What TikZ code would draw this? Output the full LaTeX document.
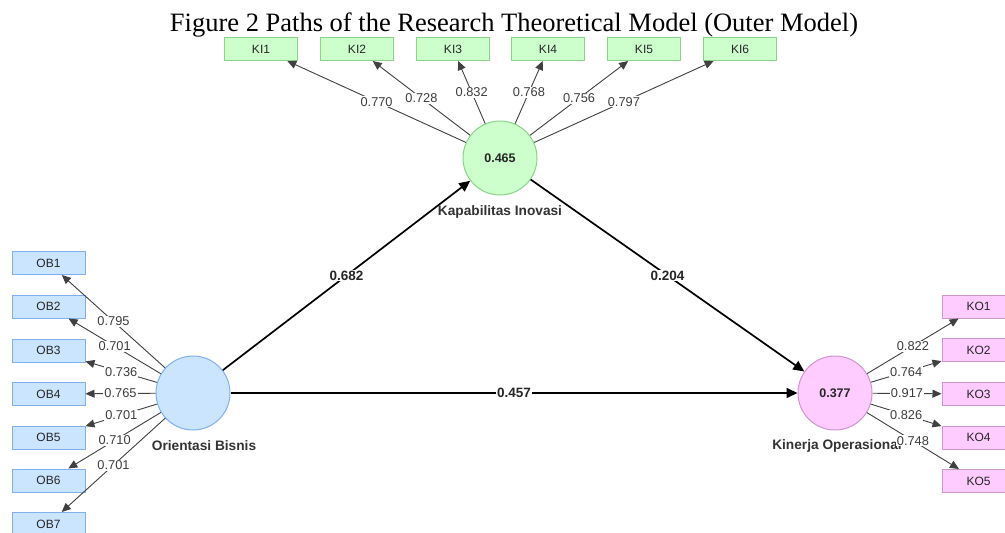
\documentclass[tikz,border=0pt]{standalone}
\usepackage{fontspec}
\setmainfont{Liberation Serif}
\newfontfamily\arialf{Liberation Sans}
\usetikzlibrary{arrows.meta}
\definecolor{obfill}{RGB}{204,229,255}
\definecolor{obline}{RGB}{130,175,240}
\definecolor{kifill}{RGB}{204,255,204}
\definecolor{kiline}{RGB}{140,210,140}
\definecolor{kofill}{RGB}{255,204,255}
\definecolor{koline}{RGB}{205,150,205}
\definecolor{txtgray}{RGB}{60,60,60}
\begin{document}
\begin{tikzpicture}[x=1pt,y=-1pt,
  ind/.style={draw, line width=1pt, minimum width=73pt, minimum height=23pt, inner sep=0pt,
    font=\arialf\fontsize{12}{13}\selectfont, text=black!85},
  obbox/.style={ind, fill=obfill, draw=obline},
  kibox/.style={ind, fill=kifill, draw=kiline},
  kobox/.style={ind, fill=kofill, draw=koline},
  lat/.style={circle, line width=1pt, minimum size=74pt, inner sep=0pt,
    font=\arialf\bfseries\fontsize{12.5}{14}\selectfont, text=black!85},
  latname/.style={font=\arialf\bfseries\fontsize{13.7}{15}\selectfont, text=black!80},
  ld/.style={-{Triangle[length=9pt,width=8pt]}, line width=0.9pt, draw=black!75},
  ldl/.style={midway, fill=white, inner sep=1pt, font=\arialf\fontsize{12.8}{14}\selectfont, text=txtgray},
  pth/.style={-{Triangle[length=11pt,width=10pt]}, line width=1.7pt, draw=black},
  pl/.style={midway, fill=white, inner sep=1pt, font=\arialf\bfseries\fontsize{13.5}{15}\selectfont, text=black!85}
]
\useasboundingbox (0,0) rectangle (1005,533);
\fill[white] (0,0) rectangle (1005,533);
\clip (0,0) rectangle (1005,533);

\node[anchor=base, font=\fontsize{26.5}{30}\selectfont] (title) at (514,31) {Figure 2 Paths of the Research Theoretical Model (Outer Model)};

% latent variables
\node[lat, fill=obfill, draw=obline] (OB) at (193,393) {};
\node[lat, fill=kifill, draw=kiline] (KI) at (500,158) {0.465};
\node[lat, fill=kofill, draw=koline] (KO) at (835,393) {0.377};

% indicators
\node[obbox] (OB1) at (48.5,263) {OB1};
\node[obbox] (OB2) at (48.5,306.5) {OB2};
\node[obbox] (OB3) at (48.5,350.5) {OB3};
\node[obbox] (OB4) at (48.5,394) {OB4};
\node[obbox] (OB5) at (48.5,437.5) {OB5};
\node[obbox] (OB6) at (48.5,480.5) {OB6};
\node[obbox] (OB7) at (48.5,524) {OB7};

\node[kibox] (KI1) at (261,49) {KI1};
\node[kibox] (KI2) at (357,49) {KI2};
\node[kibox] (KI3) at (453,49) {KI3};
\node[kibox] (KI4) at (548,49) {KI4};
\node[kibox] (KI5) at (644,49) {KI5};
\node[kibox] (KI6) at (740,49) {KI6};

\node[kobox] (KO1) at (978.5,306.5) {KO1};
\node[kobox] (KO2) at (978.5,350) {KO2};
\node[kobox] (KO3) at (978.5,394) {KO3};
\node[kobox] (KO4) at (978.5,437.5) {KO4};
\node[kobox] (KO5) at (978.5,481) {KO5};

% latent names
\node[latname] (OBn) at (204,446) {Orientasi Bisnis};
\node[latname] (KIn) at (500,212) {Kapabilitas Inovasi};
\node[latname] (KOn) at (837,446) {Kinerja Operasional};

% outer loadings
\draw[ld] (OB) -- node[ldl] {0.795} (OB1);
\draw[ld] (OB) -- node[ldl] {0.701} (OB2);
\draw[ld] (OB) -- node[ldl] {0.736} (OB3);
\draw[ld] (OB) -- node[ldl] {0.765} (OB4);
\draw[ld] (OB) -- node[ldl] {0.701} (OB5);
\draw[ld] (OB) -- node[ldl] {0.710} (OB6);
\draw[ld] (OB) -- node[ldl] {0.701} (OB7);

\draw[ld] (KI) -- node[ldl] {0.770} (KI1);
\draw[ld] (KI) -- node[ldl] {0.728} (KI2);
\draw[ld] (KI) -- node[ldl] {0.832} (KI3);
\draw[ld] (KI) -- node[ldl] {0.768} (KI4);
\draw[ld] (KI) -- node[ldl] {0.756} (KI5);
\draw[ld] (KI) -- node[ldl] {0.797} (KI6);

\draw[ld] (KO) -- node[ldl] {0.822} (KO1);
\draw[ld] (KO) -- node[ldl] {0.764} (KO2);
\draw[ld] (KO) -- node[ldl] {0.917} (KO3);
\draw[ld] (KO) -- node[ldl] {0.826} (KO4);
\draw[ld] (KO) -- node[ldl] {0.748} (KO5);

% structural paths
\draw[pth] (OB) -- node[pl] {0.682} (KI);
\draw[pth] (KI) -- node[pl] {0.204} (KO);
\draw[pth] (OB) -- node[pl] {0.457} (KO);
\end{tikzpicture}
\end{document}
